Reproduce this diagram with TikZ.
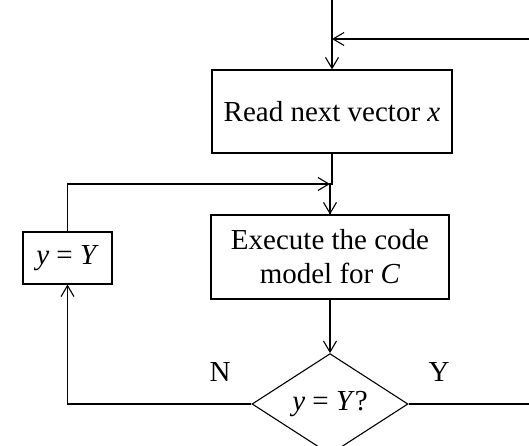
\documentclass[tikz,border=0pt]{standalone}
\usepackage{fontspec}
\setmainfont{Liberation Serif}
\usetikzlibrary{arrows.meta,shapes.geometric}
\begin{document}
\begin{tikzpicture}[x=1pt,y=-1pt,
  every node/.style={font=\fontsize{29}{33}\selectfont},
  box/.style={draw,line width=1.1pt,rectangle,inner sep=0pt,align=center},
  test/.style={draw,line width=1.1pt,diamond,inner sep=0pt,minimum width=156pt,minimum height=82pt},
  flow/.style={line width=1.1pt},
  arr/.style={flow,-{Straight Barb[length=11pt,width=13pt,line width=1.1pt]}},
  lbl/.style={inner sep=0pt}]
\useasboundingbox (0,0) rectangle (529,446);

% blocks
\node[box,minimum width=240pt,minimum height=83pt] (read) at (332,111.5) {Read next vector \textit{x}};
\node[box,minimum width=238pt,minimum height=84pt,font=\fontsize{29}{34}\selectfont] (exec) at (330,257) {Execute the code\\model for \textit{C}};
\node[box,minimum width=89pt,minimum height=52pt] (set) at (67.5,258) {\textit{y} = \textit{Y}};
\node[test] (test) at (330,404) {\textit{y} = \textit{Y}?};

% branch labels
\node[lbl] (nlab) at (220,372) {N};
\node[lbl] (ylab) at (439,372) {Y};

% entry point and feedback merge points
\coordinate (entry) at (332,0);
\coordinate (topmerge) at (332,39);
\coordinate (rightin) at (529,39);
\coordinate (midmerge) at (330,184);
\coordinate (rightout) at (529,404);

% main flow
\draw[arr] (entry) -- (read.north);
\draw[arr] (rightin) -- (topmerge);
\draw[flow] (read.south) -- (read.south |- midmerge) -| (exec.north);
\draw[arr] (midmerge) -- (exec.north);
\draw[arr] (exec.south) -- (test.north);

% "no" branch back through the assignment
\draw[arr] (test.west) -| (set.south);
\draw[arr] (set.north) |- (midmerge);

% "yes" branch out to the right
\draw[flow] (test.east) -- (rightout);
\end{tikzpicture}
\end{document}
